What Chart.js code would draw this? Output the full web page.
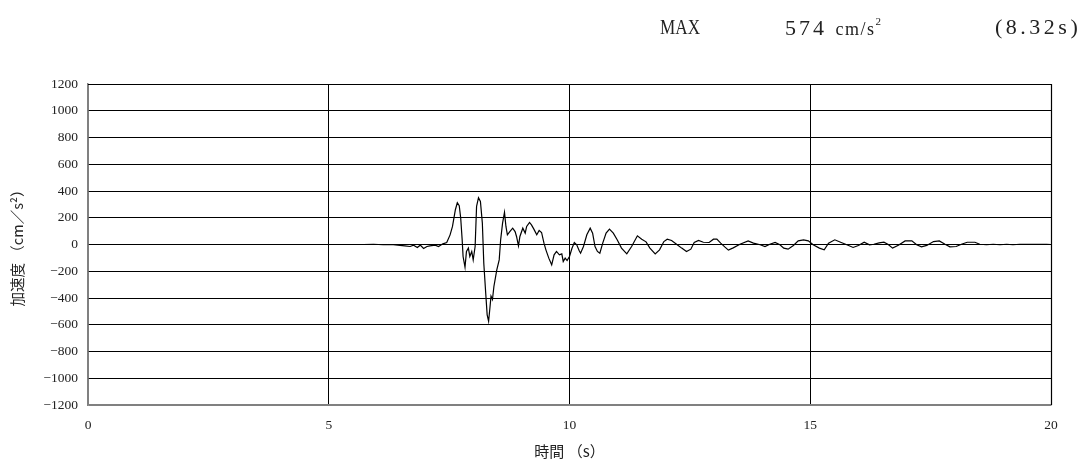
<!DOCTYPE html>
<html>
<head>
<meta charset="utf-8">
<script src="https://cdn.jsdelivr.net/npm/chart.js@4/dist/chart.umd.min.js"></script>
<style>
html,body{margin:0;padding:0;background:#fff;}
#wrap{position:relative;width:1087px;height:463px;}
canvas{position:absolute;left:0;top:0;}
.hd{position:absolute;font-family:"Liberation Serif","DejaVu Serif",serif;color:#222;white-space:nowrap;line-height:1;}
</style>
</head>
<body>
<div id="wrap">
<canvas id="c" width="1087" height="463"></canvas>
<div class="hd" style="left:660px;top:16px;font-size:22px;transform:scaleX(0.78);transform-origin:left top;">MAX</div>
<div class="hd" style="left:785px;top:16px;font-size:22px;letter-spacing:3px;">574 <span style="font-size:18px;letter-spacing:1.5px;">cm/s<sup style="font-size:11px;vertical-align:10px;">2</sup></span></div>
<div class="hd" style="left:995px;top:16px;font-size:22px;letter-spacing:3.5px;">(8.32s)</div>
</div>
<script>
const maxLabel = 'MAX';
const maxValue = 574;
const maxTime = 8.32;

const timeS = [5.50,5.72,5.93,6.13,6.34,6.48,6.58,6.69,6.76,6.84,6.90,6.97,7.04,7.10,7.21,7.28,7.37,7.45,7.52,7.57,7.63,7.67,7.71,7.74,7.77,7.79,7.83,7.86,7.90,7.93,7.97,8.00,8.04,8.07,8.11,8.15,8.19,8.22,8.26,8.29,8.32,8.35,8.37,8.40,8.43,8.49,8.54,8.57,8.61,8.65,8.68,8.71,8.76,8.82,8.87,8.90,8.94,8.97,9.03,9.08,9.11,9.17,9.21,9.26,9.32,9.37,9.42,9.47,9.51,9.57,9.63,9.68,9.73,9.79,9.84,9.87,9.91,9.95,10.00,10.05,10.10,10.15,10.20,10.23,10.29,10.36,10.43,10.48,10.53,10.58,10.63,10.69,10.76,10.83,10.91,10.99,11.08,11.19,11.29,11.41,11.50,11.59,11.67,11.78,11.87,11.96,12.03,12.12,12.23,12.33,12.43,12.52,12.59,12.68,12.78,12.90,12.99,13.06,13.14,13.23,13.30,13.40,13.54,13.71,13.82,13.96,14.06,14.16,14.27,14.37,14.45,14.54,14.65,14.75,14.86,14.96,15.06,15.19,15.29,15.38,15.51,15.63,15.76,15.89,16.00,16.12,16.23,16.32,16.43,16.53,16.62,16.71,16.83,16.97,17.11,17.21,17.31,17.42,17.56,17.68,17.80,17.90,18.03,18.14,18.26,18.42,18.52,18.66,18.80,18.94,19.08,19.21,19.35,19.56,19.77,19.91,20.00];
const accel = [0,0,2,-2,-2,-7,-10,-15,-5,-22,-5,-30,-15,-10,-5,-15,5,15,72,135,260,312,290,200,40,-90,-170,-52,-27,-90,-52,-115,-15,285,350,322,160,-140,-364,-526,-574,-464,-386,-411,-314,-189,-115,35,160,240,135,73,97,122,97,60,-10,60,122,85,135,165,147,115,73,105,90,10,-40,-102,-152,-77,-52,-77,-70,-127,-102,-120,-90,-30,15,-2,-45,-65,-15,73,122,85,-15,-52,-65,10,85,115,85,35,-27,-70,-15,65,40,20,-27,-70,-40,22,40,30,0,-27,-52,-35,15,30,17,15,40,40,10,-20,-42,-25,2,27,10,-2,-15,2,15,-2,-27,-35,-7,27,35,27,-2,-27,-40,10,35,17,-2,-22,-7,17,-2,2,12,17,0,-27,-5,27,27,-2,-17,-7,22,27,2,-17,-15,2,17,17,2,-2,2,-2,2,-2,2,2,2,2,0];

const yTicks = [-1200,-1000,-800,-600,-400,-200,0,200,400,600,800,1000,1200];
const xTicks = [0,5,10,15,20];
const xTitle = '時間 （s）';
const yTitle = '加速度 （cm／s²）';

const points = timeS.map((t,i)=>({x:t,y:accel[i]}));
const serif = '"Liberation Serif","DejaVu Serif",serif';
const cjk = '"Noto Sans CJK JP","Noto Sans",sans-serif';

new Chart(document.getElementById('c'), {
  type:'line',
  data:{datasets:[{data:points,borderColor:'#000',borderWidth:1.2,pointRadius:0,tension:0,fill:false}]},
  options:{
    responsive:false,animation:false,devicePixelRatio:1,
    layout:{padding:{top:84,right:36,left:0,bottom:0}},
    plugins:{legend:{display:false},tooltip:{enabled:false}},
    scales:{
      x:{type:'linear',min:0,max:20,
        afterBuildTicks:s=>{s.ticks=xTicks.map(v=>({value:v}));},
        afterFit:s=>{s.height=58;},
        ticks:{padding:12,color:'#222',font:{family:serif,size:13.5},maxRotation:0},
        grid:{drawTicks:false,lineWidth:1,color:c=>(c.tick&&c.tick.value===0)?'#808080':'#000'},
        border:{color:'#808080',width:1.5},
        title:{display:true,text:xTitle,color:'#222',font:{family:cjk,size:15},padding:{top:0,bottom:3}}
      },
      y:{type:'linear',min:-1200,max:1200,
        afterBuildTicks:s=>{s.ticks=yTicks.map(v=>({value:v}));},
        afterFit:s=>{s.width=88;},
        ticks:{padding:10,color:'#222',font:{family:serif,size:13.5},callback:v=>String(v).replace('-','\u2212')},
        grid:{drawTicks:false,lineWidth:1,color:c=>(c.tick&&c.tick.value===-1200)?'#808080':'#000'},
        border:{color:'#808080',width:1.5},
        title:{display:true,text:yTitle,color:'#222',font:{family:cjk,size:14.5},padding:{top:9,bottom:0}}
      }
    }
  },
  plugins:[{id:'frame',afterDraw(ch){const a=ch.chartArea,g=ch.ctx;g.save();g.strokeStyle='#000';g.lineWidth=1.2;g.beginPath();g.moveTo(a.left,a.top+0.5);g.lineTo(a.right+0.5,a.top+0.5);g.lineTo(a.right+0.5,a.bottom);g.stroke();g.restore();}}]
});
</script>
</body>
</html>
